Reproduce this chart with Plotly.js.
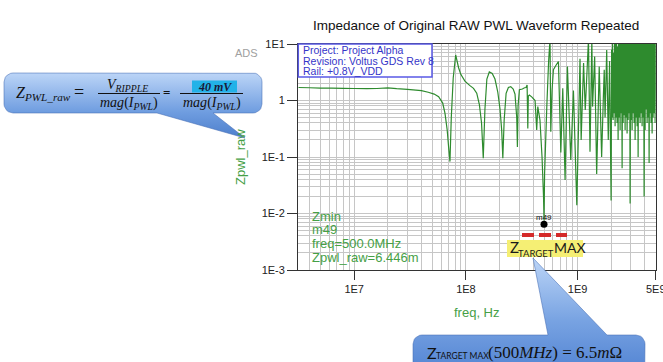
<!DOCTYPE html>
<html>
<head>
<meta charset="utf-8">
<script src="https://cdn.plot.ly/plotly-3.0.1.min.js"></script>
<style>html,body{margin:0;padding:0;background:#fff;}#chart{width:663px;height:362px;}</style>
</head>
<body>
<div id="chart"></div>
<script>
// ---- data ----
const freqHz = [
  3.16e6, 4.0e6, 5.0e6, 6.3e6, 8.0e6, 1.0e7, 1.3e7, 1.6e7, 2.0e7, 2.4e7,
  3.0e7, 4.0e7, 4.6e7, 5.2e7, 5.7e7, 6.2e7, 6.5e7, 6.8e7, 7.0e7, 7.2e7,
  7.4e7, 7.7e7, 8.1e7, 8.6e7, 9.0e7, 9.8e7, 1.08e8, 1.17e8, 1.25e8, 1.32e8,
  1.38e8, 1.43e8, 1.48e8, 1.54e8, 1.62e8, 1.72e8, 1.82e8, 1.93e8, 2.02e8, 2.09e8,
  2.14e8, 2.20e8, 2.29e8, 2.40e8, 2.52e8, 2.65e8, 2.75e8, 2.85e8, 2.89e8, 2.93e8,
  3.01e8, 3.20e8, 3.35e8, 3.45e8, 3.53e8, 3.58e8, 3.62e8, 3.70e8, 3.90e8, 4.16e8,
  4.30e8, 4.40e8, 4.60e8, 4.80e8, 4.95e8, 5.00e8, 5.06e8, 5.30e8, 5.50e8, 5.66e8,
  5.75e8, 5.90e8, 6.07e8, 6.40e8, 6.73e8, 7.07e8, 7.36e8, 7.72e8, 8.10e8, 8.68e8,
  9.17e8, 9.83e8, 1.05e9, 1.075e9, 1.13e9, 1.17e9, 1.25e9, 1.29e9, 1.34e9, 1.36e9,
  1.42e9, 1.48e9, 1.56e9, 1.64e9, 1.70e9, 1.73e9, 1.76e9, 1.82e9, 1.88e9, 1.93e9,
  1.993e9, 2.014e9, 2.034e9, 2.055e9, 2.077e9, 2.098e9, 2.120e9, 2.142e9, 2.164e9, 2.186e9,
  2.209e9, 2.232e9, 2.255e9, 2.278e9, 2.302e9, 2.326e9, 2.350e9, 2.374e9, 2.399e9, 2.424e9,
  2.449e9, 2.474e9, 2.500e9, 2.526e9, 2.552e9, 2.578e9, 2.605e9, 2.632e9, 2.659e9, 2.687e9,
  2.715e9, 2.743e9, 2.771e9, 2.800e9, 2.829e9, 2.858e9, 2.888e9, 2.918e9, 2.948e9, 2.978e9,
  3.009e9, 3.040e9, 3.072e9, 3.104e9, 3.136e9, 3.168e9, 3.201e9, 3.234e9, 3.268e9, 3.302e9,
  3.336e9, 3.371e9, 3.406e9, 3.441e9, 3.477e9, 3.513e9, 3.549e9, 3.586e9, 3.623e9, 3.660e9,
  3.698e9, 3.736e9, 3.775e9, 3.814e9, 3.854e9, 3.894e9, 3.934e9, 3.975e9, 4.016e9, 4.058e9,
  4.100e9, 4.142e9, 4.185e9, 4.229e9, 4.272e9, 4.317e9, 4.361e9, 4.407e9, 4.452e9, 4.499e9,
  4.545e9, 4.592e9, 4.639e9, 4.687e9, 4.736e9, 4.785e9, 4.834e9, 4.884e9, 4.935e9, 5.0e9
];
const zpwlRaw = [
  1.70, 1.68, 1.66, 1.65, 1.64, 1.63, 1.62, 1.63, 1.67, 1.62,
  1.58, 1.50, 1.40, 1.30, 1.17, 0.90, 0.59, 0.30, 0.15, 0.083,
  0.50, 2.5, 6.4, 3.8, 2.9, 2.2, 1.85, 1.64, 1.35, 0.85,
  0.40, 0.095, 0.70, 2.4, 3.2, 3.0, 2.4, 1.4, 0.70, 0.30,
  0.095, 0.45, 1.34, 1.70, 1.76, 1.60, 1.30, 0.50, 0.15, 0.80,
  1.55, 1.60, 1.68, 1.70, 1.88, 0.32, 1.20, 1.25, 1.15, 1.00,
  0.30, 0.78, 0.45, 0.10, 0.02, 0.0075, 0.05, 0.80, 5.0, 12,
  0.28, 1.5, 3.5, 4.2, 4.9, 0.12, 1.64, 0.039, 4.0, 0.089,
  1.5, 0.014, 5.5, 0.2, 4.6, 0.68, 12, 0.124, 12, 0.78,
  6.0, 0.05, 4.0, 0.10, 1.2, 3.5, 0.5, 7.8, 0.2, 5.0,
  0.017, 8, 0.5, 11, 0.45, 7, 0.6, 12, 0.35, 10,
  0.5, 13, 0.4, 9, 0.2, 12, 0.5, 14, 0.3, 11,
  0.6, 13, 0.063, 12, 0.4, 15, 0.55, 10, 0.3, 14,
  0.5, 12, 0.26, 13, 0.45, 11, 0.6, 14, 0.015, 12,
  0.45, 14, 0.3, 10, 0.6, 13, 0.4, 11, 0.2, 13,
  0.5, 15, 0.35, 12, 0.1, 14, 0.5, 12, 0.4, 13,
  0.6, 10, 0.35, 12, 0.5, 14, 0.02, 11, 0.3, 13,
  0.7, 12, 0.4, 14, 0.5, 13, 0.078, 11, 0.6, 12,
  0.4, 15, 0.26, 13, 0.5, 12, 0.6, 14, 0.4, 10
];
const markerFreq = [5.0e8];
const markerZ = [6.446e-3];
const markerName = 'm49';
const xTickVals = [1e7, 1e8, 1e9, 5e9];
const xTickText = ['1E7', '1E8', '1E9', '5E9'];
const yTickVals = [1e-3, 1e-2, 1e-1, 1, 10];
const yTickText = ['1E-3', '1E-2', '1E-1', '1', '1E1'];
const infoLines = ['Project: Project Alpha', 'Revision: Voltus GDS Rev 8', 'Rail: +0.8V_VDD'];
const readoutLines = ['Zmin', 'm49', 'freq=500.0MHz', 'Zpwl_raw=6.446m'];
const titleText = 'Impedance of Original RAW PWL Waveform Repeated';

// ---- helpers ----
const W = 663, H = 362;
const PL = 298.3, PR = 655.8, PT = 44, PB = 270;
function minorVals(d0, d1, lo, hi) {
  const out = [];
  for (let d = d0; d <= d1; d++) for (let k = 2; k <= 9; k++) {
    const v = k * Math.pow(10, d);
    if (v > lo && v < hi) out.push(v);
  }
  return out;
}
function callout(x0, y0, x1, y1, r, ptr) {
  const xs = [], ys = [];
  function arc(cx, cy, a0, a1) {
    for (let i = 0; i <= 6; i++) {
      const a = (a0 + (a1 - a0) * i / 6) * Math.PI / 180;
      xs.push(cx + r * Math.cos(a)); ys.push(cy + r * Math.sin(a));
    }
  }
  arc(x0 + r, y0 + r, 180, 270);
  if (ptr.edge === 'top') { xs.push(ptr.a, ptr.tx, ptr.b); ys.push(y0, ptr.ty, y0); }
  arc(x1 - r, y0 + r, 270, 360);
  arc(x1 - r, y1 - r, 0, 90);
  if (ptr.edge === 'bottom') { xs.push(ptr.b, ptr.tx, ptr.a); ys.push(y1, ptr.ty, y1); }
  arc(x0 + r, y1 - r, 90, 180);
  xs.push(xs[0]); ys.push(ys[0]);
  return {xs, ys};
}
function ann(text, x, y, font, xanchor, extra) {
  return Object.assign({text, x, y, xref: 'x2', yref: 'y2', showarrow: false,
    xanchor: xanchor || 'center', yanchor: 'middle', font}, extra || {});
}

const GREEN_TXT = '#46a046';
const SANS = 'Liberation Sans, Arial, sans-serif';
const SERIF = 'Liberation Serif, serif';
const CAL = 'Lato, sans-serif';

const c1 = callout(4, 73, 262, 113, 9, {edge: 'bottom', a: 157, b: 213, tx: 245, ty: 138});
const c2 = callout(413, 335, 645, 380, 9, {edge: 'top', a: 548, b: 607, tx: 533, ty: 258});

const traces = [
  {x: freqHz, y: zpwlRaw, type: 'scatter', mode: 'lines', xaxis: 'x', yaxis: 'y',
   line: {color: '#2e8b2e', width: 1.2, simplify: false}, hoverinfo: 'skip'},
  {x: markerFreq, y: markerZ, type: 'scatter', mode: 'markers', xaxis: 'x', yaxis: 'y',
   marker: {color: '#000', size: 7}, cliponaxis: false, hoverinfo: 'skip'},
  {x: c1.xs, y: c1.ys, type: 'scatter', mode: 'lines', xaxis: 'x2', yaxis: 'y2',
   fill: 'toself', line: {color: 'rgba(70,110,180,0.55)', width: 1},
   fillgradient: {type: 'vertical', start: 73, stop: 138,
     colorscale: [[0, '#bcd5f7'], [0.6, '#6f9de0'], [1, '#4d7fcc']]}, hoverinfo: 'skip'},
  {x: c2.xs, y: c2.ys, type: 'scatter', mode: 'lines', xaxis: 'x2', yaxis: 'y2',
   fill: 'toself', line: {color: 'rgba(70,110,180,0.55)', width: 1},
   fillgradient: {type: 'vertical', start: 258, stop: 362,
     colorscale: [[0, '#bcd5f7'], [0.6, '#78a3e2'], [1, '#5a8ad6']]}, hoverinfo: 'skip'}
];

const annotations = [
  ann(titleText, 476, 25, {family: SANS, size: 13.5, color: '#111'}),
  ann('ADS', 246, 53, {family: SANS, size: 11, color: '#a0a0a0'}),
  ann('Zpwl_raw', 240, 157, {family: SANS, size: 13, color: GREEN_TXT}, 'center', {textangle: -90}),
  ann('freq, Hz', 476.5, 312, {family: SANS, size: 13, color: GREEN_TXT}),
  ann(markerName, 544, 217, {family: SANS, size: 8, color: '#111'}),
  // ZTARGET MAX label
  ann('Z', 507.5, 247, {family: CAL, size: 15, color: '#1a1a1a'}, 'left'),
  ann('TARGET', 515.5, 253, {family: CAL, size: 9.5, color: '#1a1a1a'}, 'left'),
  ann('MAX', 552, 247, {family: CAL, size: 14, color: '#1a1a1a'}, 'left'),
  // left callout equation
  ann('<i>Z</i><sub><i>PWL_raw</i></sub>', 14, 93, {family: SERIF, size: 16, color: '#111'}, 'left'),
  ann('=', 79, 92, {family: SERIF, size: 18, color: '#111'}),
  ann('<i>V</i><sub><i>RIPPLE</i></sub>', 127, 85, {family: SERIF, size: 14, color: '#111'}),
  ann('<i>mag</i>(<i>I</i><sub><i>PWL</i></sub>)', 129, 103, {family: SERIF, size: 14, color: '#111'}),
  ann('<b>=</b>', 166, 92, {family: SERIF, size: 13, color: '#111'}),
  ann('<b><i>40 mV</i></b>', 214.5, 86.5, {family: SERIF, size: 12, color: '#1a1a3a'}),
  ann('<i>mag</i>(<i>I</i><sub><i>PWL</i></sub>)', 211.5, 103, {family: SERIF, size: 14, color: '#111'}),
  // bottom callout text
  ann('Z', 425, 352, {family: CAL, size: 16, color: '#111'}, 'left'),
  ann('TARGET MAX', 434, 356, {family: CAL, size: 8.5, color: '#111'}, 'left'),
  ann('(500<i>MHz</i>) = 6.5<i>m</i>Ω', 486, 352, {family: SERIF, size: 17, color: '#111'}, 'left')
];
infoLines.forEach((t, i) => annotations.push(
  ann(t, 301, 50 + i * 10.5, {family: SANS, size: 10.5, color: '#3535c8'}, 'left')));
readoutLines.forEach((t, i) => annotations.push(
  ann(t, 310, 216 + i * 13.8, {family: SANS, size: 13, color: GREEN_TXT}, 'left')));

const shapes = [
  {type: 'rect', xref: 'x2', yref: 'y2', x0: PL, x1: 432, y0: PT, y1: 77,
   line: {color: '#5a5ae6', width: 1.5}, fillcolor: '#fff', layer: 'above'},
  {type: 'line', xref: 'x2', yref: 'y2', x0: 522, x1: 567, y0: 235, y1: 235,
   line: {color: '#d42a2a', width: 4, dash: '12px,5px'}, layer: 'above'},
  {type: 'rect', xref: 'x2', yref: 'y2', x0: 507, x1: 583, y0: 240, y1: 257,
   line: {width: 0}, fillcolor: '#f5ef74', layer: 'above'},
  {type: 'line', xref: 'x2', yref: 'y2', x0: 98, x1: 160, y0: 93.5, y1: 93.5,
   line: {color: '#111', width: 1}, layer: 'above'},
  {type: 'line', xref: 'x2', yref: 'y2', x0: 180, x1: 243, y0: 93.5, y1: 93.5,
   line: {color: '#111', width: 1}, layer: 'above'},
  {type: 'rect', xref: 'x2', yref: 'y2', x0: 192, x1: 237, y0: 80.5, y1: 92.5,
   line: {width: 0}, fillcolor: '#22b2e8', layer: 'above'}
];

const gridC = '#c6c6c6';
const layout = {
  width: W, height: H,
  margin: {l: 0, r: 0, t: 0, b: 0, pad: 0},
  paper_bgcolor: '#fff', plot_bgcolor: 'rgba(0,0,0,0)',
  showlegend: false,
  xaxis: {type: 'log', domain: [PL / W, PR / W], range: [6.5, Math.log10(5e9) + 0.0005],
    tickmode: 'array', tickvals: xTickVals, ticktext: xTickText, ticklabeloverflow: 'allow',
    ticks: 'outside', ticklen: 9, tickcolor: '#333', tickwidth: 1,
    tickfont: {family: SANS, size: 11, color: '#222'},
    showgrid: true, gridcolor: gridC, gridwidth: 1,
    minor: {tickmode: 'array', tickvals: minorVals(6, 9, 3.16e6, 5e9), showgrid: true,
      gridcolor: gridC, gridwidth: 1, ticks: ''},
    showline: true, linecolor: '#333', linewidth: 1.2, mirror: true, zeroline: false,
    fixedrange: true, anchor: 'y'},
  yaxis: {type: 'log', domain: [1 - PB / H, 1 - PT / H], range: [-3, 1],
    tickmode: 'array', tickvals: yTickVals, ticktext: yTickText,
    ticks: 'outside', ticklen: 10, tickcolor: '#333', tickwidth: 1,
    tickfont: {family: SANS, size: 11, color: '#222'},
    showgrid: true, gridcolor: gridC, gridwidth: 1,
    minor: {tickmode: 'array', tickvals: minorVals(-3, 0, 1e-3, 10), showgrid: true,
      gridcolor: gridC, gridwidth: 1, ticks: ''},
    showline: true, linecolor: '#333', linewidth: 1.2, mirror: true, zeroline: false,
    fixedrange: true, anchor: 'x'},
  xaxis2: {domain: [0, 1], range: [0, W], visible: false, fixedrange: true, anchor: 'y2'},
  yaxis2: {domain: [0, 1], range: [H, 0], visible: false, fixedrange: true, anchor: 'x2'},
  annotations, shapes
};

Plotly.newPlot('chart', traces, layout, {staticPlot: true, displayModeBar: false});
</script>
</body>
</html>
